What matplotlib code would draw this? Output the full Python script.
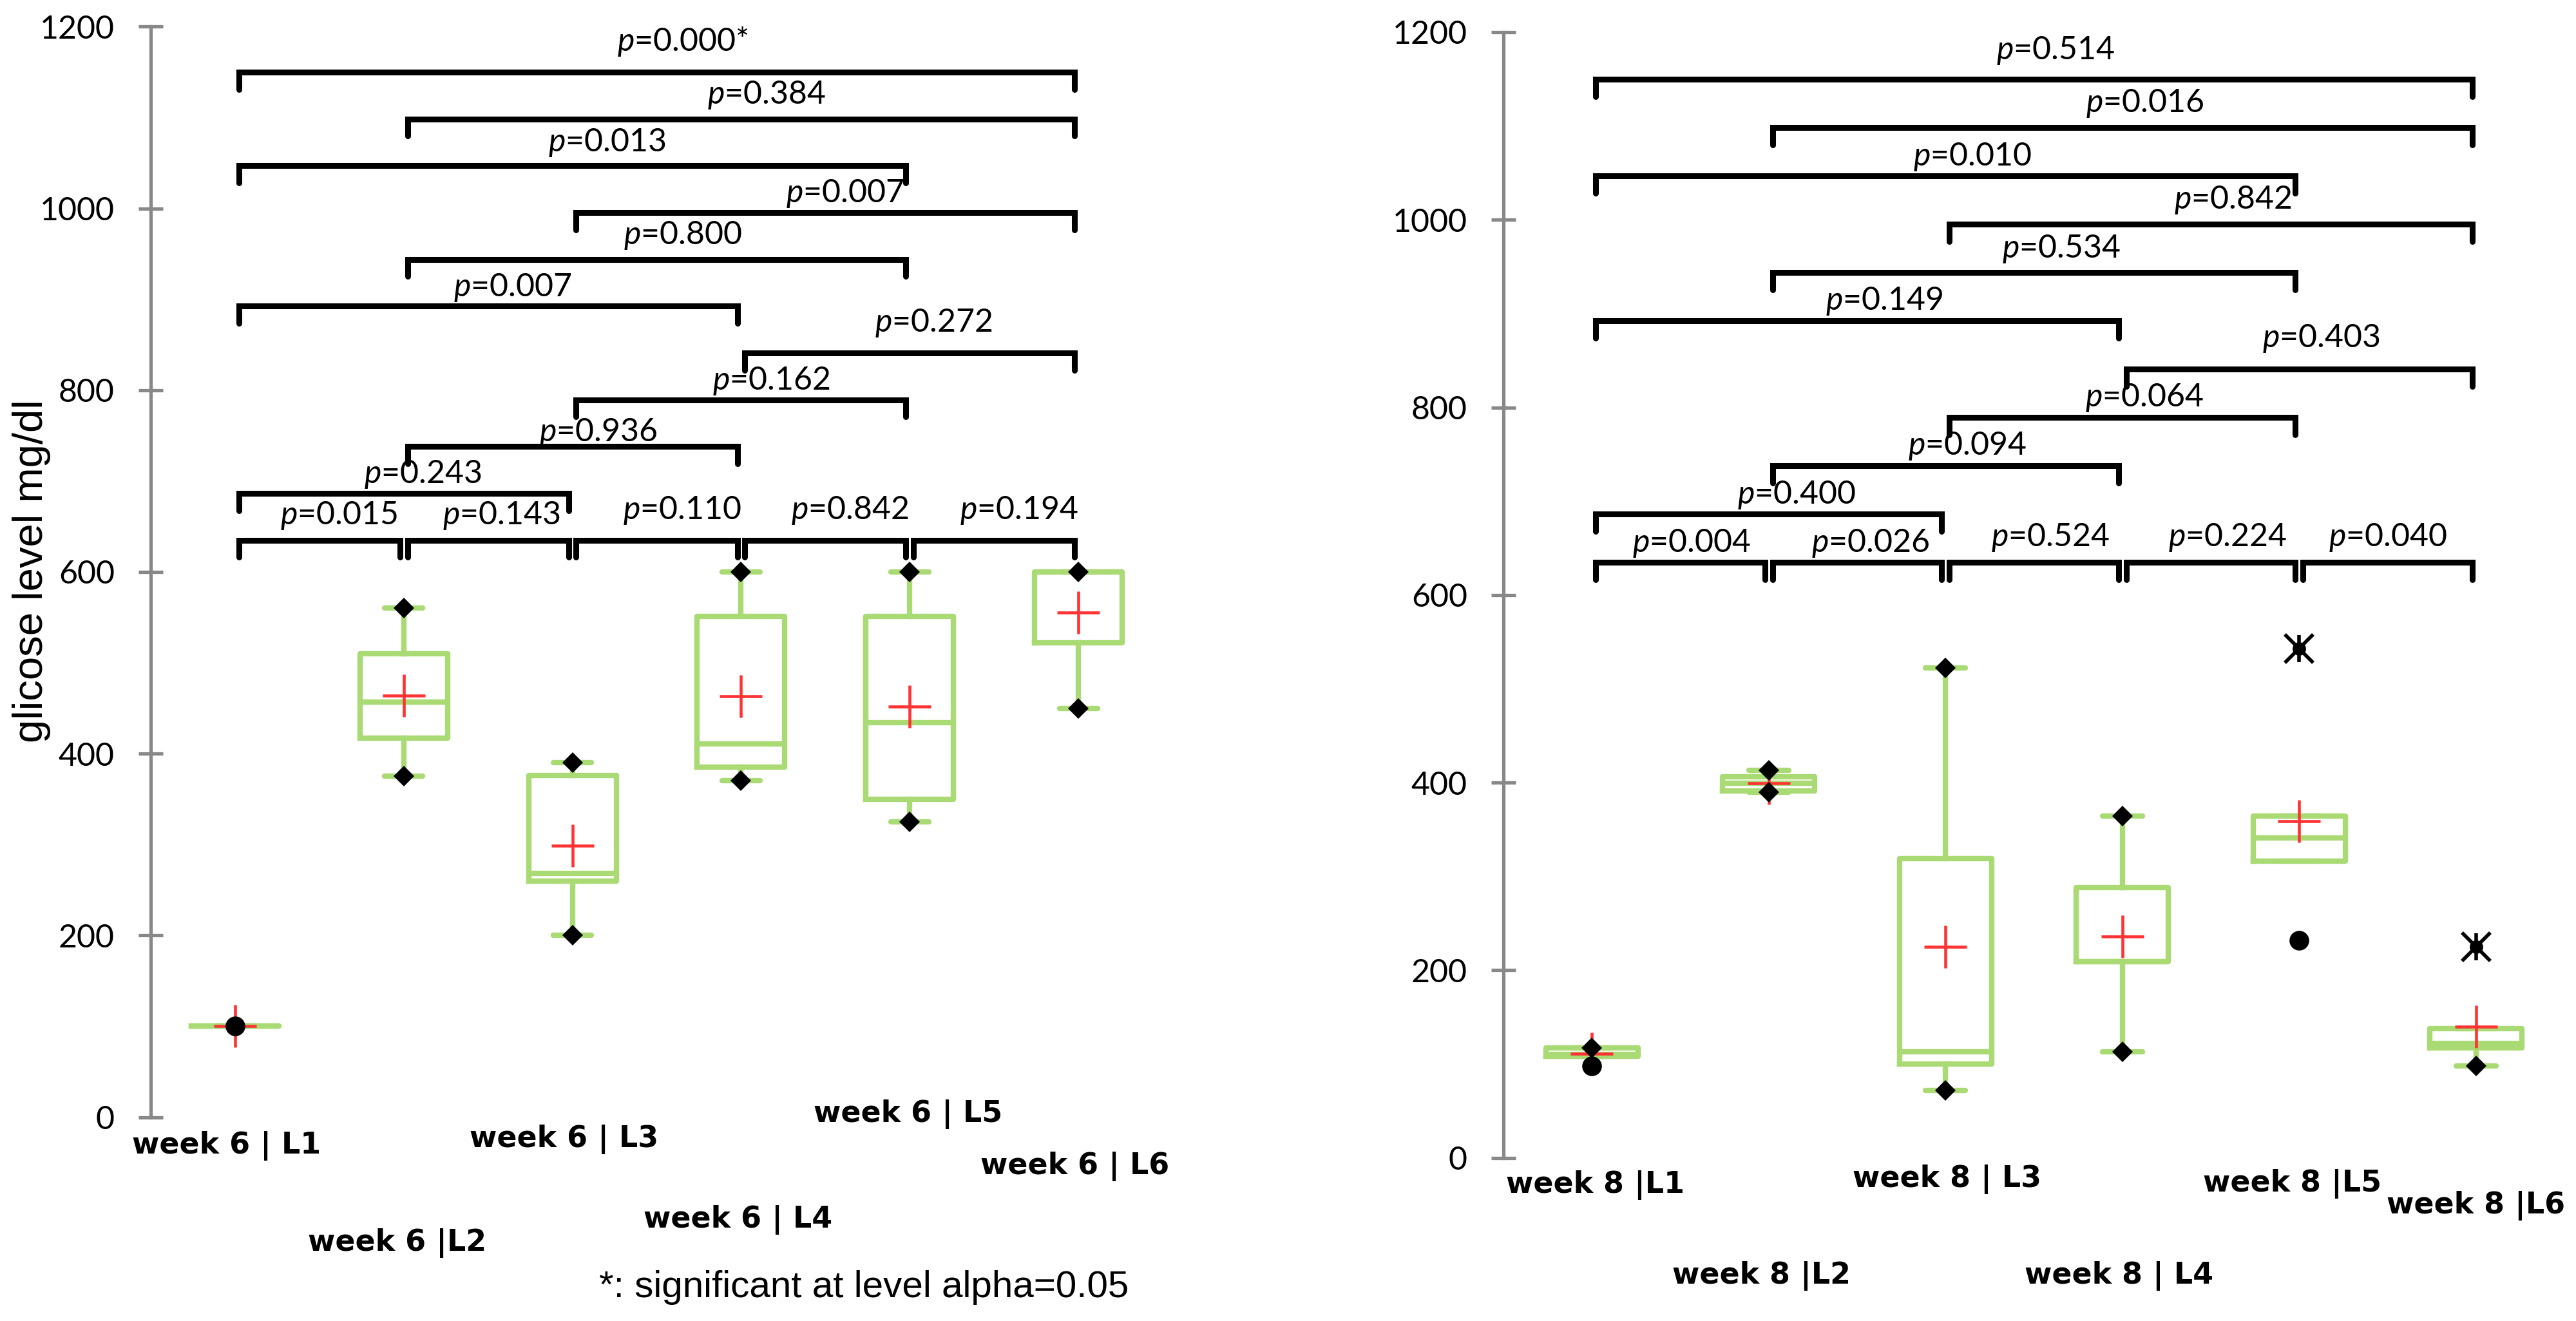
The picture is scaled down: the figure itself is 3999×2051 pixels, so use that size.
import numpy as np
import matplotlib
matplotlib.use('Agg')
import matplotlib.pyplot as plt

plt.rcParams['font.family'] = 'Lato'
plt.rcParams['mathtext.fontset'] = 'custom'
plt.rcParams['mathtext.it'] = 'Lato:italic'
plt.rcParams['mathtext.rm'] = 'Lato'

nan = np.nan

# ---- week 6 data ----
labels_w6 = ['week 6 | L1', 'week 6 |L2', 'week 6 | L3', 'week 6 | L4', 'week 6 | L5', 'week 6 | L6']
q1_w6 = [100, 417, 260, 385, 350, 522]
med_w6 = [100, 457, 268, 411, 434, 600]
q3_w6 = [100, 510, 376, 551, 551, 600]
whislo_w6 = [100, 375, 200, 370, 325, 450]
whishi_w6 = [100, 560, 390, 600, 600, 600]
mean_w6 = [100, 464, 299, 463, 452, 555]
min_w6 = [nan, 375, 200, 370, 325, 450]
max_w6 = [nan, 560, 390, 600, 600, 600]
out_w6 = [100, nan, nan, nan, nan, nan]
ext_w6 = [nan, nan, nan, nan, nan, nan]
p_w6 = ['0.000*', '0.384', '0.013', '0.007', '0.800', '0.007', '0.272', '0.162',
        '0.936', '0.243', '0.015', '0.143', '0.110', '0.842', '0.194']

# ---- week 8 data ----
labels_w8 = ['week 8 |L1', 'week 8 |L2', 'week 8 | L3', 'week 8 | L4', 'week 8 |L5', 'week 8 |L6']
q1_w8 = [108, 391, 100, 209, 316, 117]
med_w8 = [110, 399, 113, 209, 341, 122]
q3_w8 = [117, 406, 319, 288, 364, 138]
whislo_w8 = [108, 390, 72, 113, 316, 98]
whishi_w8 = [117, 413, 522, 364, 364, 138]
mean_w8 = [111, 399, 225, 236, 359, 140]
min_w8 = [nan, 390, 72, 113, nan, 98]
max_w8 = [117, 413, 522, 364, nan, nan]
out_w8 = [98, nan, nan, nan, 232, nan]
ext_w8 = [nan, nan, nan, nan, 543, 225]
p_w8 = ['0.514', '0.016', '0.010', '0.842', '0.534', '0.149', '0.403', '0.064',
        '0.094', '0.400', '0.004', '0.026', '0.524', '0.224', '0.040']

# comparisons (same order in both panels) and bracket levels
pairs = [(1, 6), (2, 6), (1, 5), (3, 6), (2, 5), (1, 4), (4, 6), (3, 5), (2, 4), (1, 3),
         (1, 2), (2, 3), (3, 4), (4, 5), (5, 6)]
levels = [1150, 1098.5, 1047, 995.5, 944, 892.5, 841, 789.5, 738, 686.5,
          635, 635, 635, 635, 635]

# label placement (layout)
labx_w6 = [3.655, 4.149, 3.206, 4.614, 3.653, 2.647, 5.14, 4.178, 3.153, 2.111, 1.614, 2.577, 3.649, 4.645, 5.648]
laby_w6 = [1173, 1115, 1063, 1007, 961, 903, 864.5, 800.6, 743.6, 697.5, 652.6, 652.6, 658, 658, 658]
labx_w8 = [3.623, 4.125, 3.151, 4.623, 3.654, 2.654, 5.124, 4.123, 3.123, 2.156, 1.565, 2.576, 3.594, 4.593, 5.503]
laby_w8 = [1171.5, 1115, 1058, 1011.6, 959.4, 903.8, 864, 800.8, 749.6, 697.4, 646, 646, 652, 652, 652]
catdx_w6 = [-0.05, -0.04, -0.05, -0.02, -0.01, -0.02]
caty_w6 = [-39.8, -146.8, -32.7, -121.3, -5.5, -62.6]
catdx_w8 = [0.02, -0.04, 0.01, -0.02, -0.04, 0.0]
caty_w8 = [-37.3, -134.1, -31.0, -134.1, -36.3, -59.4]

green = '#A9DA74'
gray = '#888888'
red = '#FF3333'

W, H = 3999, 2051
fig = plt.figure(figsize=(W / 100, H / 100), dpi=100)


def draw_panel(ax, labels, q1, med, q3, wlo, whi, mean, vmin, vmax, out, ext,
               pvals, labx, laby, catdx, caty):
    pos = np.arange(1, len(labels) + 1)
    stats = []
    for i in range(len(labels)):
        stats.append({'q1': q1[i], 'med': med[i], 'q3': q3[i],
                      'whislo': wlo[i], 'whishi': whi[i], 'fliers': []})
    ax.bxp(stats, positions=pos, widths=0.52, capwidths=0.225, showfliers=False,
           manage_ticks=False,
           boxprops=dict(color=green, linewidth=6),
           whiskerprops=dict(color=green, linewidth=6),
           capprops=dict(color=green, linewidth=6, solid_capstyle='round'),
           medianprops=dict(color=green, linewidth=6))
    ax.plot(pos, mean, linestyle='none', marker='+', ms=48, mew=3.3, color=red, zorder=4)
    ax.plot(pos, vmin, linestyle='none', marker='D', ms=16, mew=0, color='black', zorder=5)
    ax.plot(pos, vmax, linestyle='none', marker='D', ms=16, mew=0, color='black', zorder=5)
    ax.plot(pos, out, linestyle='none', marker='o', ms=22, mew=0, color='black', zorder=6)
    ax.plot(pos, ext, linestyle='none', marker='x', ms=31, mew=4, color='black', zorder=6)
    ax.plot(pos, ext, linestyle='none', marker='|', ms=30, mew=4, color='black', zorder=6)
    ax.plot(pos, ext, linestyle='none', marker='o', ms=15, mew=0, color='black', zorder=6)

    # significance brackets
    for k, (a, b) in enumerate(pairs):
        y = levels[k]
        xa, xb = a + 0.022, b - 0.022
        ax.plot([xa, xa, xb, xb], [y - 19, y, y, y - 19], color='black', lw=6.5,
                solid_capstyle='round', solid_joinstyle='miter', clip_on=False, zorder=3)
        ax.text(labx[k], laby[k], '$p$=' + pvals[k], ha='center', va='baseline',
                fontsize=36, clip_on=False, zorder=7)

    for i, lab in enumerate(labels):
        ax.text(pos[i] + catdx[i], caty[i], lab, ha='center', va='baseline',
                family='DejaVu Sans', fontweight='bold', fontsize=33, clip_on=False)

    ax.set_xlim(0.5, 6.5)
    ax.set_ylim(0, 1200)
    ax.set_xticks([])
    ax.set_yticks(np.arange(0, 1201, 200))
    for s in ['top', 'right', 'bottom']:
        ax.spines[s].set_visible(False)
    ax.spines['left'].set_color(gray)
    ax.spines['left'].set_linewidth(3.8)
    ax.tick_params(axis='y', direction='inout', length=27, width=3.8, color=gray,
                   labelsize=36, pad=27)
    ax.patch.set_alpha(0)


ax1 = fig.add_axes([234 / W, 1 - 1734.5 / H, (1805 - 234) / W, (1734.5 - 41.3) / H])
draw_panel(ax1, labels_w6, q1_w6, med_w6, q3_w6, whislo_w6, whishi_w6, mean_w6,
           min_w6, max_w6, out_w6, ext_w6, p_w6, labx_w6, laby_w6, catdx_w6, caty_w6)

ax2 = fig.add_axes([2334 / W, 1 - 1797.5 / H, (3981 - 2334) / W, (1797.5 - 50) / H])
draw_panel(ax2, labels_w8, q1_w8, med_w8, q3_w8, whislo_w8, whishi_w8, mean_w8,
           min_w8, max_w8, out_w8, ext_w8, p_w8, labx_w8, laby_w8, catdx_w8, caty_w8)

fig.text(49 / W, 1 - 886.5 / H, 'glicose level mg/dl', rotation=90, ha='center', va='center',
         family='Liberation Sans', fontsize=47)
fig.text(930 / W, 1 - 2014 / H, '*: significant at level alpha=0.05', ha='left', va='baseline',
         family='Liberation Sans', fontsize=42)

fig.savefig('out.png', dpi=100, facecolor='white')
